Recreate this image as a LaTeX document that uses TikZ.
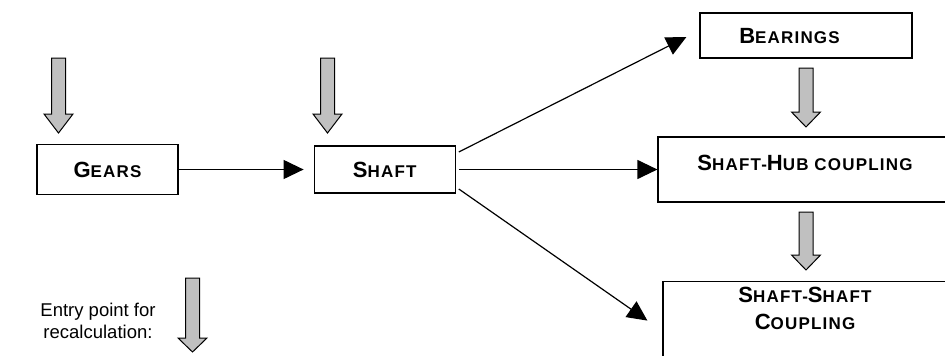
\documentclass[tikz,border=0pt]{standalone}
\usepackage{fontspec}
\setmainfont{Liberation Sans}
\newfontfamily\capsfont[LetterSpace=7]{Liberation Sans}
\usetikzlibrary{arrows.meta,positioning}
\definecolor{arrowgray}{HTML}{C0C0C0}
\newcommand{\BigCap}[1]{{\fontsize{22}{24}\selectfont #1}}

\tikzset{
  part/.style={rectangle, draw, line width=1.2pt, inner sep=0pt, text height=15.8pt,
    font=\capsfont\bfseries\fontsize{17}{27}\selectfont},
  flow/.style={-{Triangle[length=20pt,width=19pt]}, line width=1.2pt},
  pics/downarrow/.style 2 args={code={
    \draw[line width=1pt, fill=arrowgray] (-7,0) -- (-7,#1-#2) -- (-14.5,#1-#2) -- (0,#1)
      -- (14.5,#1-#2) -- (7,#1-#2) -- (7,0) -- cycle;
  }}
}

\begin{document}
\begin{tikzpicture}[x=1pt, y=-1pt]
  \useasboundingbox (0,0) rectangle (945,356);
  \clip (0,0) rectangle (945,356);

  \node[part, minimum width=141pt, minimum height=50pt] (gears) at (107.5,169.5) {\BigCap{G}EARS};
  \node[part, minimum width=141pt, minimum height=47pt, right=135pt of gears] (shaft) {\BigCap{S}HAFT};
  \node[part, minimum width=212pt, minimum height=45pt] (bearings) at (806,35.5) {\BigCap{B}EARINGS\hspace*{33pt}};
  \node[part, minimum width=294pt, minimum height=65pt, text depth=13pt] (hub) at (805,169.5) {\BigCap{S}HAFT-\BigCap{H}UB COUPLING};
  \node[part, align=center, anchor=north, minimum width=284pt, minimum height=81pt] (coupling) at (805,281)
    {\BigCap{S}HAFT-\BigCap{S}HAFT\\ \BigCap{C}OUPLING};
  \node[align=center, font=\fontsize{18.5}{22}\selectfont] (entry) at (98,321) {Entry point for\\recalculation:};

  \draw[flow, shorten >=10pt] (gears) -- (shaft);
  \draw[flow] ([xshift=3pt,yshift=17.5pt]shaft.east) -- ([xshift=-13pt,yshift=-1.5pt]bearings.west);
  \draw[flow] ([xshift=3pt]shaft.east) -- (hub.west);
  \draw[flow] ([xshift=3pt,yshift=-19.5pt]shaft.east) -- ([xshift=-15pt,yshift=1.5pt]coupling.west);

  % entry points
  \pic at (58.5,58) {downarrow={75}{19}};
  \pic at (327.5,58) {downarrow={75}{19}};
  \pic at (806,68) {downarrow={59}{15}};
  \pic at (806,212) {downarrow={58}{15}};
  \pic at (192.5,278) {downarrow={74}{14}};
\end{tikzpicture}
\end{document}
